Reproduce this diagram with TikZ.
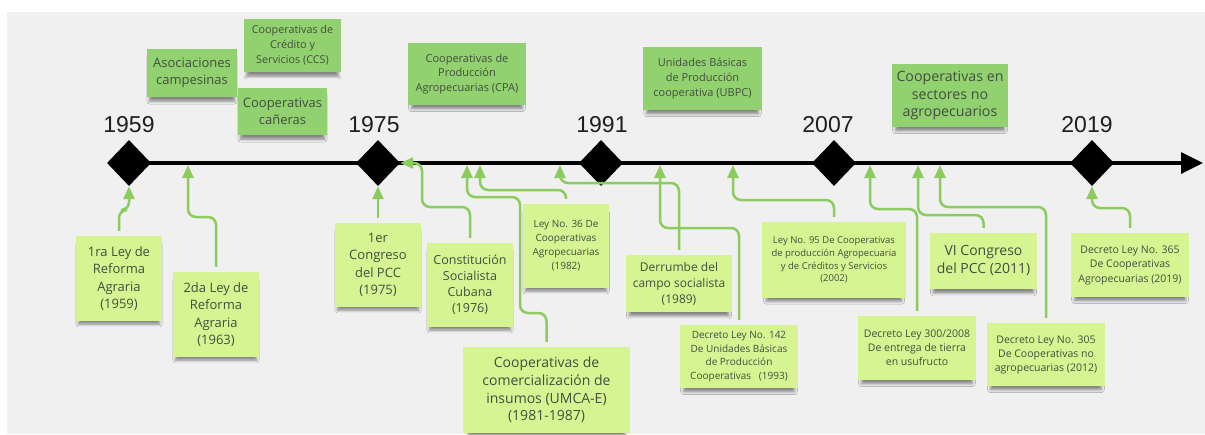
\documentclass[tikz,border=0pt]{standalone}
\usepackage{fontspec}
\setmainfont{Open Sans}
\newfontfamily\yearfont{Liberation Sans}
\usetikzlibrary{shapes.geometric,arrows.meta,shadows.blur}

\definecolor{canvas}{HTML}{F0F0F0}
\definecolor{topgreen}{HTML}{92D16F}
\definecolor{lowgreen}{HTML}{D6F592}
\definecolor{linkgreen}{HTML}{8CCB5E}
\definecolor{notetext}{HTML}{434E3E}
\definecolor{yeartext}{HTML}{1E1E1E}

\tikzset{
  notebase/.style={rectangle, inner sep=2pt, align=center, text=notetext,
    blur shadow={shadow xshift=0pt, shadow yshift=-6pt, shadow scale=0.94,
      shadow blur radius=3pt, shadow opacity=45}},
  topnote/.style={notebase, fill=topgreen},
  lownote/.style={notebase, fill=lowgreen},
  sz/.style 2 args={minimum width=#1pt, minimum height=#2pt},
  fs/.style 2 args={font=\fontsize{#1}{#2}\selectfont},
  year/.style={anchor=base, text=yeartext, font=\yearfont\fontsize{23}{23}\selectfont},
  milestone/.style={diamond, fill=black, inner sep=0pt, minimum width=44pt, minimum height=46pt},
  conn/.style={draw=linkgreen, line width=2.5pt, rounded corners=8pt,
    -{Triangle[length=13pt,width=11pt]}, shorten <=5pt},
  axis/.style={draw=black, line width=3.5pt, -{Triangle[length=22pt,width=21pt]}}
}

\begin{document}
\begin{tikzpicture}[x=1pt, y=-1pt]
  \useasboundingbox (0,0) rectangle (1205,434);
  \fill[white] (0,0) rectangle (1205,434);
  \fill[canvas] (7,12) rectangle (1205,434);

  % time axis
  \coordinate (axisstart) at (129,163);
  \coordinate (axisend) at (1203,163);
  \draw[axis] (axisstart) -- (axisend);

  % milestones
  \node[milestone] (d1959) at (129,163) {};
  \node[milestone] (d1975) at (378,163) {};
  \node[milestone] (d1991) at (601,163) {};
  \node[milestone] (d2007) at (834,163) {};
  \node[milestone] (d2019) at (1092,163) {};

  \node[year] (y1959) at (129,132) {1959};
  \node[year] (y1975) at (374,132) {1975};
  \node[year] (y1991) at (602,132) {1991};
  \node[year] (y2007) at (828,132) {2007};
  \node[year] (y2019) at (1087,132) {2019};

  % forms of cooperatives
  \node[topnote, sz={90}{48}, fs={13}{16.7}] (asoc) at (192,73) {Asociaciones\\campesinas};
  \node[topnote, sz={97}{53}, fs={10.8}{15}] (ccs) at (292.5,45.5) {Cooperativas de\\Crédito y\\Servicios (CCS)};
  \node[topnote, sz={89}{47}, fs={13}{16.7}] (canera) at (282.5,111.5) {Cooperativas\\cañeras};
  \node[topnote, sz={118}{62}, fs={11}{14.7}] (cpa) at (467,74) {Cooperativas de\\Producción\\Agropecuarias (CPA)};
  \node[topnote, sz={119}{63}, fs={11}{15}] (ubpc) at (702.5,78.5) {Unidades Básicas\\de Producción\\cooperativa (UBPC)};
  \node[topnote, sz={116}{63}, fs={14.2}{17.5}] (nonagro) at (950,95.5) {Cooperativas en\\sectores no\\agropecuarios};

  % events and laws
  \node[lownote, sz={86}{85}, fs={13}{17.5}] (n1959) at (119,278.5) {1ra Ley de\\Reforma\\Agraria\\(1959)};
  \node[lownote, sz={86}{85}, fs={13}{17.5}] (n1963) at (216,314.5) {2da Ley de\\Reforma\\Agraria\\(1963)};
  \node[lownote, sz={86}{84}, fs={13}{17.5}] (n1975) at (378,265) {1er\\Congreso\\del PCC\\(1975)};
  \node[lownote, sz={86}{84}, fs={12.5}{16}] (n1976) at (470,285) {Constitución\\Socialista\\Cubana\\(1976)};
  \node[lownote, sz={167}{86}, fs={14}{17.8}] (numca) at (546.5,390) {Cooperativas de\\comercialización de\\insumos (UMCA-E)\\(1981-1987)};
  \node[lownote, sz={86}{84}, fs={10}{14}] (n1982) at (566,246) {Ley No. 36 De\\Cooperativas\\Agropecuarias\\(1982)};
  \node[lownote, sz={106}{57}, fs={12}{16}] (n1989) at (679,283.5) {Derrumbe del\\campo socialista\\(1989)};
  \node[lownote, sz={118}{63}, fs={10}{13.7}] (n1993) at (739,356.5) {Decreto Ley No. 142\\De Unidades Básicas\\de Producción\\Cooperativas\ \ \ (1993)};
  \node[lownote, sz={144}{76}, fs={9.5}{12.8}] (n2002) at (834,260) {Ley No. 95 De Cooperativas\\de producción Agropecuaria\\y de Créditos y Servicios\\(2002)};
  \node[lownote, sz={118}{64}, fs={10.5}{14}] (n2008) at (917,348) {Decreto Ley 300/2008\\De entrega de tierra\\en usufructo};
  \node[lownote, sz={107}{56}, fs={14}{18}] (n2011) at (983.5,261) {VI Congreso\\del PCC (2011)};
  \node[lownote, sz={118}{63}, fs={10.5}{14}] (n2012) at (1046,354.5) {Decreto Ley No. 305\\De Cooperativas no\\agropecuarias (2012)};
  \node[lownote, sz={118}{64}, fs={10.5}{14.5}] (n2019) at (1130,265) {Decreto Ley No. 365\\De Cooperativas\\Agropecuarias (2019)};

  % points on the axis
  \coordinate (a1963) at (188,165);
  \coordinate (aumca) at (467,165);
  \coordinate (a1982) at (480,165);
  \coordinate (a1989) at (560,165);
  \coordinate (a1993) at (660,165);
  \coordinate (a2002) at (733,165);
  \coordinate (a2008) at (870,165);
  \coordinate (a2011) at (918,165);
  \coordinate (a2012) at (940,165);

  % links from each note to the axis
  \draw[conn] (n1959.north) |- (129,210) -- (d1959.south);
  \draw[conn] (n1963.north) |- (188,217) -- (a1963);
  \draw[conn] (n1975.north) -- (d1975.south);
  \draw[conn] (n1976.north) |- (422,207) -- (422,163) -- (d1975.east);
  \draw[conn] (numca.north) |- (520,313) |- (467,197) -- (aumca);
  \draw[conn] (n1982.north) |- (480,190) -- (a1982);
  \draw[conn] (n1989.north) |- (560,183) -- (a1989);
  \draw[conn] (n1993.north) |- (660,228) -- (a1993);
  \draw[conn] (n2002.north) |- (733,200) -- (a2002);
  \draw[conn] (n2008.north) |- (870,209) -- (a2008);
  \draw[conn] (n2011.north) |- (918,215) -- (a2011);
  \draw[conn] (n2012.north) |- (940,207) -- (a2012);
  \draw[conn] (n2019.north) |- (1092,208) -- (d2019.south);
\end{tikzpicture}
\end{document}
